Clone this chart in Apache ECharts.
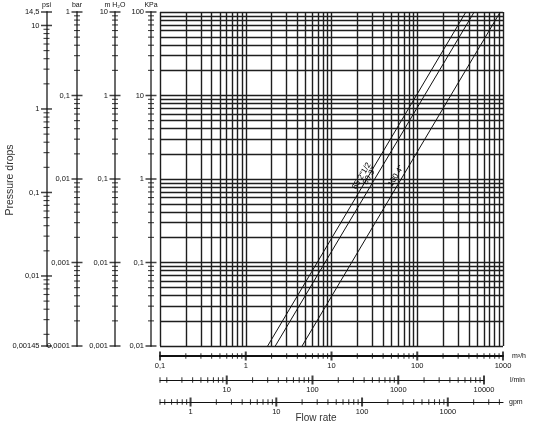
<!DOCTYPE html>
<html>
<head>
<meta charset="utf-8">
<script src="https://cdn.jsdelivr.net/npm/echarts@6/dist/echarts.min.js"></script>
<style>
html, body { margin: 0; padding: 0; background: #fff; }
#chart { width: 536px; height: 426px; }
</style>
</head>
<body>
<div id="chart"></div>
<script>
// pressure drop curves, two ends each: flow in m3/h, drop in KPa
const lineNames = ['65 2"1/2', '80 3"', '100 4"'];
const lineFlowLow = [1.80, 2.21, 4.54];
const lineFlowHigh = [369, 461, 929];
const lineDrop = [0.01, 100];

// log grid of the main plot
const gridSteps = [1, 2, 3, 4, 5, 6, 7, 8, 9];
const flowDecades = [0.1, 1, 10, 100];
const dropDecades = [0.01, 0.1, 1, 10];
const flowMax = 1000;
const dropMax = 100;

// scales on the left
const psiRange = [0.00145, 14.5];
const barRange = [0.0001, 1];
const h2oRange = [0.001, 10];
const kpaRange = [0.01, 100];
const psiEndTicks = [0.00145, 14.5];

// scales below
const m3hRange = [0.1, 1000];
const lminRange = [1.6667, 10000];
const gpmRange = [0.4403, 4402.9];
const lminEndTicks = [1.6667];
const gpmEndTicks = [0.4403];

const minorSteps = [2, 3, 4, 5, 6, 7, 8, 9];
const font = '"Liberation Sans", Arial, sans-serif';
const tickFont = '"Liberation Sans Narrow", "Liberation Sans", Arial, sans-serif';

function decadesIn(range) {
  const out = [];
  const k0 = Math.ceil(Math.log10(range[0]) - 1e-9);
  const k1 = Math.floor(Math.log10(range[1]) + 1e-9);
  for (let k = k0; k <= k1; k++) out.push(+Math.pow(10, k).toPrecision(6));
  return out;
}
function stepsIn(range) {
  const out = [];
  for (let k = Math.floor(Math.log10(range[0])); Math.pow(10, k) < range[1]; k++) {
    minorSteps.forEach(s => {
      const v = +(s * Math.pow(10, k)).toPrecision(6);
      if (v > range[0] * 1.001 && v < range[1] * 0.999) out.push(v);
    });
  }
  return out;
}
function comma(v) { return String(+(+v).toPrecision(6)).replace('.', ','); }
function isDecade(v) { const l = Math.log10(v); return Math.abs(l - Math.round(l)) < 1e-6; }

const vLines = [];
flowDecades.forEach(d => gridSteps.forEach(s => vLines.push(+(s * d).toPrecision(6))));
vLines.push(flowMax);
const hLines = [];
dropDecades.forEach(d => gridSteps.forEach(s => hLines.push(+(s * d).toPrecision(6))));
hLines.push(dropMax);

const side = [
  { name: 'psi', left: 46.5, range: psiRange, major: decadesIn(psiRange).concat(psiEndTicks), minor: stepsIn(psiRange) },
  { name: 'bar', left: 77, range: barRange, major: decadesIn(barRange), minor: stepsIn(barRange) },
  { name: 'm H\u2082O', left: 115, range: h2oRange, major: decadesIn(h2oRange), minor: stepsIn(h2oRange) },
  { name: 'KPa', left: 151, range: kpaRange, major: decadesIn(kpaRange), minor: stepsIn(kpaRange) }
];
const bottom = [
  { name: 'm\u00b3/h', top: 346, width: 343, range: m3hRange, gap: 9, lineW: 2, major: decadesIn(m3hRange), minor: stepsIn(m3hRange) },
  { name: 'l/min', top: 370, width: 324, range: lminRange, gap: 26, lineW: 1.2, major: decadesIn(lminRange), minor: stepsIn(lminRange).concat(lminEndTicks) },
  { name: 'gpm', top: 392, width: 343, range: gpmRange, gap: 6, lineW: 1.2, major: decadesIn(gpmRange), minor: stepsIn(gpmRange).concat(gpmEndTicks) }
];

const grids = [{ left: 160, top: 12, width: 343, height: 334, outerBoundsMode: 'none' }];
const xAxes = [{ type: 'log', gridIndex: 0, min: m3hRange[0], max: m3hRange[1], show: false }];
const yAxes = [{ type: 'log', gridIndex: 0, min: kpaRange[0], max: kpaRange[1], show: false }];
const series = [];

// grid lines
series.push({
  type: 'line', xAxisIndex: 0, yAxisIndex: 0, data: [],
  markLine: {
    silent: true, symbol: ['none', 'none'], animation: false,
    label: { show: false },
    lineStyle: { color: '#1e1e1e', width: 1.4, type: 'solid' },
    data: vLines.map(v => ({ xAxis: v })).concat(hLines.map(v => ({ yAxis: v })))
  }
});

// pressure drop curves
lineNames.forEach((n, i) => {
  const pts = [[lineFlowLow[i], lineDrop[0]], [lineFlowHigh[i], lineDrop[1]]];
  series.push({
    type: 'line', name: n, xAxisIndex: 0, yAxisIndex: 0,
    data: [], symbol: 'none',
    markLine: {
      silent: true, symbol: ['none', 'none'], animation: false,
      lineStyle: { color: '#111', width: 1, type: 'solid' },
      label: {
        show: true, position: 'insideMiddleTop', formatter: n,
        fontSize: 8, color: '#000', fontFamily: tickFont, distance: 2,
        textBorderWidth: 0, opacity: 1
      },
      data: [[{ coord: pts[0] }, { coord: pts[1] }]]
    }
  });
});

// left scales
side.forEach((a, i) => {
  const gi = grids.length;
  grids.push({ left: a.left, top: 12, width: 10, height: 334, outerBoundsMode: 'none' });
  xAxes.push({ type: 'value', gridIndex: gi, min: 0, max: 1, show: false });
  yAxes.push({
    type: 'log', gridIndex: gi, min: a.range[0], max: a.range[1], position: 'left',
    name: a.name, nameLocation: 'end', nameGap: 3,
    nameTextStyle: { fontSize: 7, color: '#111', fontFamily: tickFont, align: 'center', verticalAlign: 'bottom' },
    axisLine: { show: true, onZero: false, lineStyle: { color: '#6b6b6b', width: 2 } },
    axisTick: { show: false }, splitLine: { show: false },
    axisLabel: { fontSize: 7.5, color: '#111', fontFamily: tickFont, margin: 7, formatter: comma }
  });
  const xi = xAxes.length - 1, yi = yAxes.length - 1;
  series.push({
    type: 'scatter', xAxisIndex: xi, yAxisIndex: yi, clip: false, silent: true,
    symbol: 'rect', symbolSize: [6, 1.1], itemStyle: { color: '#111' },
    data: a.minor.map(v => [0, v])
  });
  series.push({
    type: 'scatter', xAxisIndex: xi, yAxisIndex: yi, clip: false, silent: true,
    symbol: 'rect', symbolSize: [11, 1.5], itemStyle: { color: '#111' },
    data: a.major.map(v => [0, v])
  });
});

// flow scales
bottom.forEach(a => {
  const gi = grids.length;
  grids.push({ left: 160, top: a.top, width: a.width, height: 10, outerBoundsMode: 'none' });
  xAxes.push({
    type: 'log', gridIndex: gi, min: a.range[0], max: a.range[1], position: 'bottom',
    name: a.name, nameLocation: 'end', nameGap: a.gap,
    nameTextStyle: { fontSize: 7, color: '#111', fontFamily: tickFont, align: 'left', verticalAlign: 'middle' },
    axisLine: { show: true, onZero: false, lineStyle: { color: '#111', width: a.lineW } },
    axisTick: { show: false }, splitLine: { show: false },
    axisLabel: { fontSize: 7.5, color: '#111', fontFamily: tickFont, margin: 6, formatter: v => isDecade(v) ? comma(v) : '' }
  });
  yAxes.push({ type: 'value', gridIndex: gi, min: 0, max: 1, show: false });
  const xi = xAxes.length - 1, yi = yAxes.length - 1;
  series.push({
    type: 'scatter', xAxisIndex: xi, yAxisIndex: yi, clip: false, silent: true,
    symbol: 'rect', symbolSize: [1.1, 5.5], itemStyle: { color: '#111' },
    data: a.minor.map(v => [v, 0])
  });
  series.push({
    type: 'scatter', xAxisIndex: xi, yAxisIndex: yi, clip: false, silent: true,
    symbol: 'rect', symbolSize: [2, 9], itemStyle: { color: '#111' },
    data: a.major.map(v => [v, 0])
  });
});

const chart = echarts.init(document.getElementById('chart'));
chart.setOption({
  animation: false,
  backgroundColor: '#fff',
  textStyle: { fontFamily: font },
  grid: grids,
  xAxis: xAxes,
  yAxis: yAxes,
  series: series,
  graphic: [
    { type: 'text', x: 10, y: 180, rotation: Math.PI / 2,
      style: { text: 'Pressure drops', fontSize: 10.5, fontFamily: font, fill: '#333', align: 'center', verticalAlign: 'middle' } },
    { type: 'text', x: 316, y: 418,
      style: { text: 'Flow rate', fontSize: 10, fontFamily: font, fill: '#333', align: 'center', verticalAlign: 'middle' } }
  ]
});
</script>
</body>
</html>
